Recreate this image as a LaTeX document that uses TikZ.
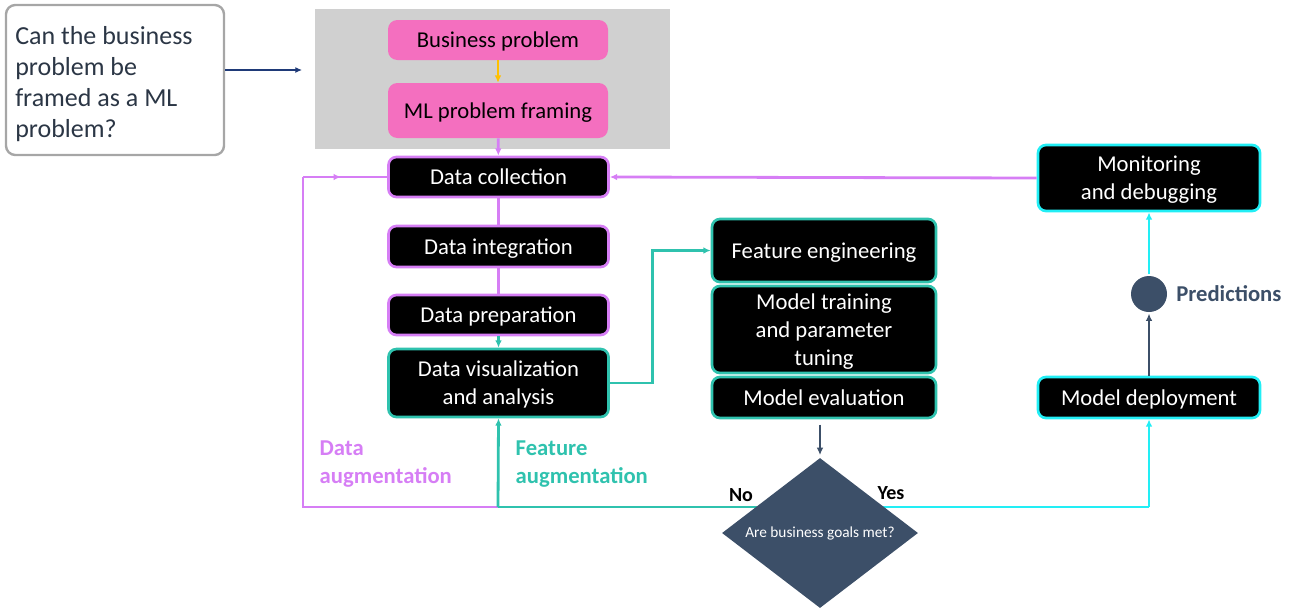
\documentclass[tikz,border=0pt]{standalone}
\usepackage{fontspec}
\setmainfont{Carlito}
\usetikzlibrary{arrows.meta,shapes.geometric,backgrounds,decorations.markings}
\definecolor{cpurple}{HTML}{D67EF5}
\definecolor{cteal}{HTML}{2FC2AE}
\definecolor{ccyan}{HTML}{22EEF5}
\definecolor{cpink}{HTML}{F46FBF}
\definecolor{cnavy}{HTML}{3C4F68}
\definecolor{cgray}{HTML}{D0D0D0}
\definecolor{corange}{HTML}{FFC000}
\definecolor{cqtext}{HTML}{2B3645}
\definecolor{cqborder}{HTML}{A6A6A6}
\definecolor{cdarrow}{HTML}{1F3A78}
\begin{document}
\begin{tikzpicture}[x=0.75pt,y=-0.75pt,
  box/.style={rounded corners=6pt,fill=black,text=white,line width=2pt,
    minimum width=165pt,align=center,inner sep=2pt,text depth=0pt,
    font=\fontsize{17}{21}\selectfont},
  pinkbox/.style={rounded corners=7pt,fill=cpink,text=black,draw=none,
    minimum width=165pt,align=center,text depth=0pt,font=\fontsize{17}{21}\selectfont},
  conn/.style={line width=2.1pt},
  tip/.style={-{Latex[length=5.5pt,width=5pt]}},
  lab/.style={font=\bfseries\fontsize{17}{21}\selectfont,align=left,anchor=west}
]
\useasboundingbox (0,0) rectangle (1291,611);
% question box
\node[draw=cqborder,line width=1.8pt,rounded corners=7pt,minimum width=163.5pt,
  minimum height=112.5pt] (q) at (115,80) {};
\node[anchor=west,align=left,inner sep=0pt,text=cqtext,
  font=\fontsize{19.5}{23.25}\selectfont] (qt) at (15,84)
  {Can the business\\problem be\\framed as a ML\\problem?};
\coordinate (qa) at (302,70);
\draw[cdarrow,line width=0.9pt,-{Latex[length=5pt,width=4.5pt]}] (q.east |- qa) -- (qa);
% gray area
\fill[cgray] (315,9) rectangle (670,149);
\node[pinkbox,minimum height=30pt] (bp) at (498,40) {Business problem};
\node[pinkbox,minimum height=41.25pt] (ml) at (498,110.5) {ML problem framing};
% left column
\node[box,draw=cpurple,minimum height=30pt] (dc) at (498.5,177) {Data collection};
\node[box,draw=cpurple,minimum height=30.75pt] (di) at (498.5,246.5) {Data integration};
\node[box,draw=cpurple,minimum height=30pt] (dp) at (498.5,315) {Data preparation};
\node[box,draw=cteal,minimum height=51pt] (dv) at (498.5,383) {Data visualization\\and analysis};
% middle column
\node[box,draw=cteal,minimum width=168pt,minimum height=47.25pt] (fe) at (824,250.5) {Feature engineering};
\node[box,draw=cteal,minimum width=168pt,minimum height=65.25pt] (mt) at (824,329.5) {Model training\\and parameter\\tuning};
\node[box,draw=cteal,minimum width=168pt,minimum height=30.75pt] (me) at (824,397.5) {Model evaluation};
% right column
\node[box,draw=ccyan,minimum width=166.5pt,minimum height=30.75pt] (md) at (1149,397.5) {Model deployment};
\node[box,draw=ccyan,minimum width=166.5pt,minimum height=49.5pt] (mon) at (1149,178) {Monitoring\\and debugging};
\node[circle,fill=cnavy,minimum size=27pt,inner sep=0pt] (pred) at (1149,294) {};
\node[lab,text=cnavy,inner sep=0pt] (predl) at (1176,294) {Predictions};
% diamond
\node[diamond,fill=cnavy,minimum width=147pt,minimum height=112.5pt,inner sep=0pt,
  aspect=1.3,text=white,font=\fontsize{11.5}{13}\selectfont] (dia) at (820,533) {Are business goals met?};
\coordinate (bl) at (303,507);
\coordinate (bm) at (498,507);
\coordinate (br) at (1149,507);
\coordinate (dl) at (820,507);
% connectors on background
\begin{pgfonlayer}{background}
\draw[cteal,conn] (dl) -- (bm);
\draw[ccyan,conn] (dl) -- (br);
\end{pgfonlayer}
\draw[corange,conn,tip] (bp) -- (ml);
\draw[cpurple,conn,tip] (ml) -- (dc);
\draw[cpurple,conn] (dc) -- (di);
\draw[cpurple,conn] (di) -- (dp);
\draw[cteal,conn,tip] (dp) -- (dv);
\draw[cteal,conn,tip] (dv.east) -- ++(43,0) |- (fe.west);
\draw[cnavy,conn,tip,shorten <=4pt,shorten >=2pt] (dia.north |- me.south) -- (dia.north);
\draw[cpurple,conn] (bm) -- (bl) -- (bl |- dc);
\draw[cpurple,conn,postaction={decorate},decoration={markings,mark=at position 0.45 with {\arrow{Latex[length=5.5pt,width=5pt]}}}] (bl |- dc) -- (dc.west);
\draw[cteal,conn,tip] (bm) -- (dv.south);
\draw[ccyan,conn,tip] (br) -- (md.south);
\draw[cnavy,conn,tip,shorten >=1pt] (md.north) -- (pred.south);
\draw[ccyan,conn,tip,shorten <=1pt] (pred.north) -- (mon.south);
\draw[cpurple,conn,tip] (mon.west) -- (dc.east);
% labels
\node[lab,text=cpurple] (la) at (315,464) {Data\\augmentation};
\node[lab,text=cteal] (lf) at (511,464) {Feature\\augmentation};
\node[font=\bfseries\fontsize{15}{18}\selectfont] (no) at (741,495) {No};
\node[font=\bfseries\fontsize{15}{18}\selectfont] (yes) at (891,493) {Yes};
\end{tikzpicture}
\end{document}
